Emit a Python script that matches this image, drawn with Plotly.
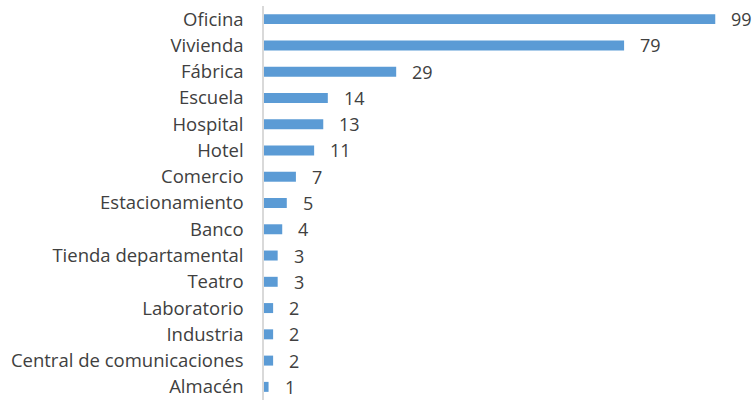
import plotly.graph_objects as go

categories = ["Oficina", "Vivienda", "Fábrica", "Escuela", "Hospital", "Hotel", "Comercio",
              "Estacionamiento", "Banco", "Tienda departamental", "Teatro", "Laboratorio",
              "Industria", "Central de comunicaciones", "Almacén"]
values = [99, 79, 29, 14, 13, 11, 7, 5, 4, 3, 3, 2, 2, 2, 1]

FONT = "Open Sans"
TEXT_COLOR = "#404040"
BAR_COLOR = "#5B9BD5"

fig = go.Figure()
fig.add_trace(go.Bar(
    y=categories, x=values, orientation="h",
    marker=dict(color=BAR_COLOR, line=dict(width=0)),
    width=0.38,
    hoverinfo="x+y",
))

annotations = [
    dict(x=v, y=c, text=str(v), xref="x", yref="y", xanchor="left", yanchor="middle",
         xshift=14, showarrow=False, font=dict(family=FONT, size=18, color=TEXT_COLOR))
    for c, v in zip(categories, values)
]

fig.update_layout(
    width=754, height=400,
    margin=dict(l=264, r=0, t=6, b=0, autoexpand=False),
    paper_bgcolor="white", plot_bgcolor="white",
    showlegend=False,
    annotations=annotations,
    font=dict(family=FONT, size=18.5, color=TEXT_COLOR),
    xaxis=dict(range=[0, 107.5], visible=False, fixedrange=True),
    yaxis=dict(range=[14.5, -0.5], showline=True, linecolor="#D9D9D9", linewidth=1.5,
               showgrid=False, zeroline=False, ticks="", ticklabelstandoff=15,
               automargin=False, fixedrange=True,
               tickfont=dict(family=FONT, size=18.5, color=TEXT_COLOR)),
)

# remove the browser's default 8px page margin so the figure fills the window
fig.write_html("out.html", config={"displayModeBar": False},
               post_script="document.body.style.margin='0';")
